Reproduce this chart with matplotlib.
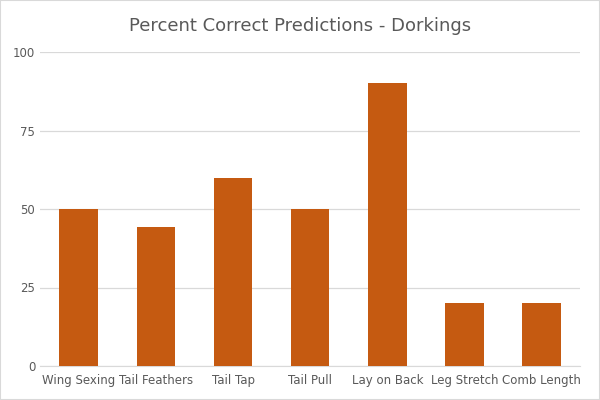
import matplotlib
matplotlib.use('Agg')
import matplotlib.pyplot as plt
from matplotlib.patches import Rectangle

categories = ['Wing Sexing', 'Tail Feathers', 'Tail Tap', 'Tail Pull',
              'Lay on Back', 'Leg Stretch', 'Comb Length']
percent = [50, 44.4, 60, 50, 90, 20, 20]
yticks = [0, 25, 50, 75, 100]

fig = plt.figure(figsize=(6, 4), dpi=100)
ax = fig.add_axes([0.067, 0.085, 0.9, 0.785])
ax.bar(range(len(categories)), percent, width=0.5, color='#C55A11', zorder=3)

ax.set_ylim(0, 100)
ax.set_xlim(-0.5, len(categories) - 0.5)
ax.set_yticks(yticks)
ax.set_xticks(range(len(categories)))
ax.set_xticklabels(categories)
ax.tick_params(length=0, labelsize=8.5, colors='#595959')
ax.tick_params(axis='x', pad=6)
ax.grid(axis='y', color='#D9D9D9', linewidth=0.9, zorder=0)
for s in ['top', 'right', 'left']:
    ax.spines[s].set_visible(False)
ax.spines['bottom'].set_color('#D9D9D9')

fig.text(0.5, 0.935, 'Percent Correct Predictions - Dorkings', ha='center',
         va='center', fontsize=13, color='#595959')
fig.patches.append(Rectangle((0, 0), 1, 1, transform=fig.transFigure,
                             fill=False, edgecolor='#D9D9D9', linewidth=1.5))

fig.savefig('out.png', dpi=100)
